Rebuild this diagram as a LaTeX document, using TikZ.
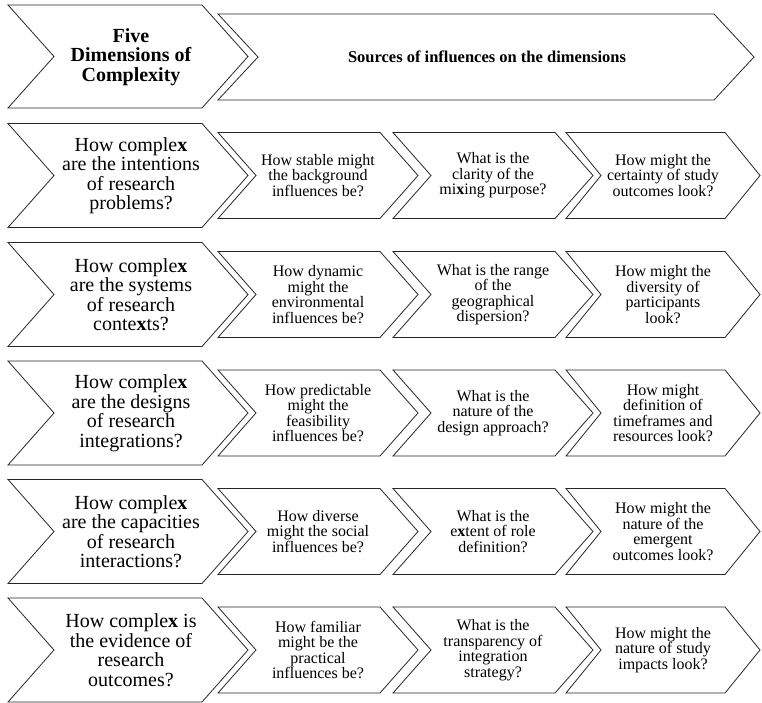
\documentclass[tikz,border=0pt]{standalone}
\usepackage{fontspec}
\setmainfont{Liberation Serif}
\begin{document}
% chevron outline: left x, right end of flat edges, point depth, centre y, half height
\newcommand\chevshape[5]{%
  \draw[chevline] (#1,#4-#5) -- (#2,#4-#5) -- (#2+#3,#4) -- (#2,#4+#5)
    -- (#1,#4+#5) -- (#1+#3,#4) -- cycle;}
\begin{tikzpicture}[x=1pt,y=-1pt,
  chevline/.style={draw=black!85,line width=0.8pt,line join=miter},
  dimtext/.style={align=center,inner sep=0pt,font={\fontsize{20}{19.5}\selectfont}},
  headtext/.style={align=center,inner sep=0pt,font={\fontsize{20}{19.5}\selectfont\bfseries}},
  srctext/.style={align=center,inner sep=0pt,font={\fontsize{16.5}{16.5}\selectfont\bfseries}},
  qtext/.style={align=center,inner sep=0pt,font={\fontsize{16}{15.5}\selectfont}}]
\useasboundingbox (0,0) rectangle (762,703);

% header row
\chevshape{8}{202}{46}{56.5}{51.5}
\chevshape{218}{714}{40}{57}{43}
\node[headtext] (hdim) at (131,57) {Five\\Dimensions of\\Complexity};
\node[srctext] (hsrc) at (487,57) {Sources of influences on the dimensions};

% five dimension rows
\foreach \cy in {175.5,294.5,413,531.5,650}{
  \chevshape{8}{202}{46}{\cy}{52}
  \chevshape{218}{380}{38}{\cy}{43}
  \chevshape{393}{555}{38}{\cy}{43}
  \chevshape{566}{725}{35}{\cy}{43}
}

% row 1
\node[dimtext] (d1) at (131,175.5) {How comple\textbf{x}\\are the intentions\\of research\\problems?};
\node[qtext] (q11) at (318,175.5) {How stable might\\the background\\influences be?};
\node[qtext] (q12) at (493,175.5) {What is the\\clarity of the\\mi\textbf{x}ing purpose?};
\node[qtext] (q13) at (663,175.5) {How might the\\certainty of study\\outcomes look?};

% row 2
\node[dimtext] (d2) at (131,294.5) {How comple\textbf{x}\\are the systems\\of research\\conte\textbf{x}ts?};
\node[qtext] (q21) at (318,294.5) {How dynamic\\might the\\environmental\\influences be?};
\node[qtext] (q22) at (493,294.5) {What is the range\\of the\\geographical\\dispersion?};
\node[qtext] (q23) at (663,294.5) {How might the\\diversity of\\participants\\look?};

% row 3
\node[dimtext] (d3) at (131,413) {How comple\textbf{x}\\are the designs\\of research\\integrations?};
\node[qtext] (q31) at (318,413) {How predictable\\might the\\feasibility\\influences be?};
\node[qtext] (q32) at (493,413) {What is the\\nature of the\\design approach?};
\node[qtext] (q33) at (663,413) {How might\\definition of\\timeframes and\\resources look?};

% row 4
\node[dimtext] (d4) at (131,531.5) {How comple\textbf{x}\\are the capacities\\of research\\interactions?};
\node[qtext] (q41) at (318,531.5) {How diverse\\might the social\\influences be?};
\node[qtext] (q42) at (493,531.5) {What is the\\e\textbf{x}tent of role\\definition?};
\node[qtext] (q43) at (663,531.5) {How might the\\nature of the\\emergent\\outcomes look?};

% row 5
\node[dimtext] (d5) at (131,650) {How comple\textbf{x} is\\the evidence of\\research\\outcomes?};
\node[qtext] (q51) at (318,650) {How familiar\\might be the\\practical\\influences be?};
\node[qtext] (q52) at (493,650) {What is the\\transparency of\\integration\\strategy?};
\node[qtext] (q53) at (663,650) {How might the\\nature of study\\impacts look?};
\end{tikzpicture}
\end{document}
